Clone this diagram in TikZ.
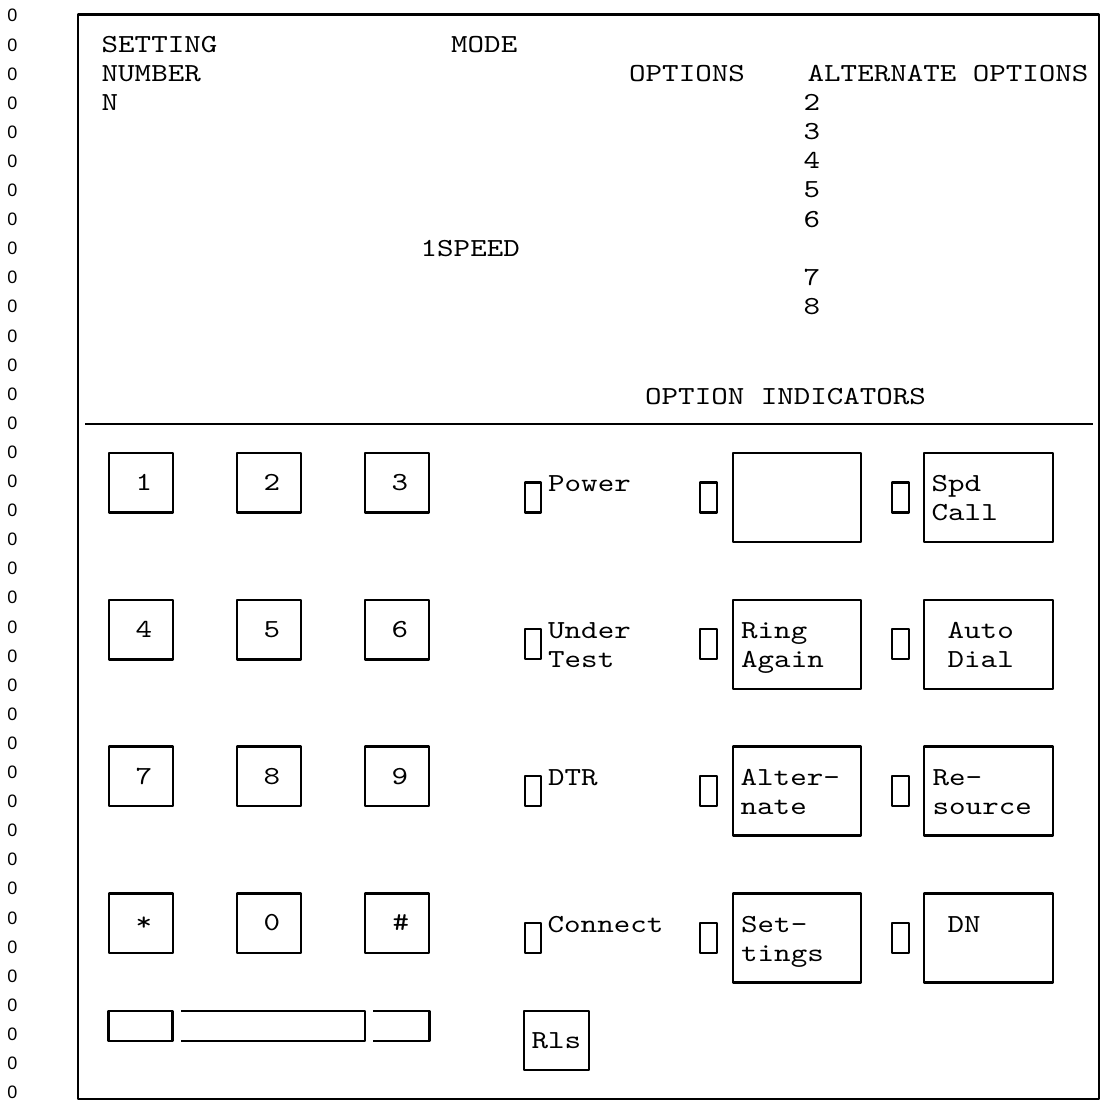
\documentclass[tikz,border=0pt]{standalone}
\usepackage{fontspec}
\newfontfamily\monofnt[FakeStretch=1.21]{lmmono10-regular.otf}
\newfontfamily\zerofnt{Liberation Sans}
\begin{document}
\begin{tikzpicture}[x=1pt,y=-1pt,
  mtext/.style={font=\monofnt\fontsize{26}{29}\selectfont, inner sep=0pt, anchor=base west},
  ctext/.style={font=\monofnt\fontsize{26}{29}\selectfont, inner sep=0pt, anchor=base},
  zerotext/.style={font=\zerofnt\fontsize{18}{20}\selectfont, inner sep=0pt, anchor=base},
  keybox/.style={draw, line width=2.4pt, line join=round, minimum width=64pt, minimum height=59.5pt, inner sep=0pt},
  ledbox/.style={draw, line width=2.2pt, line join=round, minimum width=16.5pt, minimum height=30pt, inner sep=0pt},
  fnbox/.style={draw, line width=2.4pt, line join=round, minimum width=128.5pt, minimum height=89pt, inner sep=0pt},
  barline/.style={draw, line width=2.4pt, line join=round}]
\useasboundingbox (0,0) rectangle (1102,1109);

% left column of zeros
\foreach \k in {1,...,38}{
  \node[zerotext] (z\k) at (12.5,{15.5+(\k-1)*29.1+6.45}) {0};
}

% frame and separator
\draw[line width=2.7pt, line join=round] (78,14.5) rectangle (1099,1099);
\coordinate (sepL) at (85,424);
\coordinate (sepR) at (1093,424);
\draw[line width=2.7pt] (sepL) -- (sepR);

% header texts
\node[mtext] (setting) at (101.5,52.4) {SETTING};
\node[mtext] (mode) at (451,52.4) {MODE};
\node[mtext] (number) at (101.5,81.5) {NUMBER};
\node[mtext] (options) at (629,81.5) {OPTIONS};
\node[mtext] (altopt) at (807.5,81.5) {ALTERNATE OPTIONS};
\node[mtext] (nn) at (101.5,110.6) {N};
\node[mtext] (a2) at (803.5,110.6) {2};
\node[mtext] (a3) at (803.5,139.7) {3};
\node[mtext] (a4) at (803.5,168.8) {4};
\node[mtext] (a5) at (803.5,197.9) {5};
\node[mtext] (a6) at (803.5,227.0) {6};
\node[mtext] (speed) at (420.5,256.1) {1SPEED};
\node[mtext] (a7) at (803.5,285.2) {7};
\node[mtext] (a8) at (803.5,314.3) {8};
\node[mtext] (optind) at (645,404.5) {OPTION INDICATORS};

% keypad
\node[keybox] (k1) at (141,482.75) {};
\node[keybox] (k2) at (269,482.75) {};
\node[keybox] (k3) at (397,482.75) {};
\node[keybox] (k4) at (141,629.55) {};
\node[keybox] (k5) at (269,629.55) {};
\node[keybox] (k6) at (397,629.55) {};
\node[keybox] (k7) at (141,776.35) {};
\node[keybox] (k8) at (269,776.35) {};
\node[keybox] (k9) at (397,776.35) {};
\node[keybox] (ks) at (141,923.15) {};
\node[keybox] (k0) at (269,923.15) {};
\node[keybox] (kh) at (397,923.15) {};
\node[ctext] (t1) at (144,490.55) {1};
\node[ctext] (t2) at (272,490.55) {2};
\node[ctext] (t3) at (400,490.55) {3};
\node[ctext] (t4) at (144,637.35) {4};
\node[ctext] (t5) at (272,637.35) {5};
\node[ctext] (t6) at (400,637.35) {6};
\node[ctext] (t7) at (144,784.15) {7};
\node[ctext] (t8) at (272,784.15) {8};
\node[ctext] (t9) at (400,784.15) {9};
\node[ctext] (ts) at (144,930.95) {*};
\node[ctext] (t0) at (272,930.95) {0};
\node[ctext] (th) at (401,930.95) {\#};

% bottom bars
\node[keybox, minimum height=30.3pt] (bar1) at (140.6,1025.85) {};
\coordinate (b2a) at (181,1010.7);
\coordinate (b2b) at (365,1010.7);
\coordinate (b2c) at (365,1041);
\coordinate (b2d) at (181,1041);
\draw[barline] (b2a) -- (b2b) -- (b2c) -- (b2d);
\coordinate (b3a) at (373.3,1010.7);
\coordinate (b3b) at (429.3,1010.7);
\coordinate (b3c) at (429.3,1041);
\coordinate (b3d) at (373.3,1041);
\draw[barline] (b3a) -- (b3b) -- (b3c) -- (b3d);

% indicator LEDs and function keys
\foreach \r/\yy in {1/497.5,2/644.3,3/791.1,4/937.9}{
  \node[ledbox] (la\r) at (533,\yy) {};
  \node[ledbox] (lb\r) at (708.5,\yy) {};
  \node[ledbox] (lc\r) at (900.5,\yy) {};
  \node[fnbox] (fb\r) at (797,\yy) {};
  \node[fnbox] (fc\r) at (988.5,\yy) {};
}

% indicator labels
\node[mtext] (power) at (548,491.7) {Power};
\node[mtext] (under) at (548,638.5) {Under};
\node[mtext] (test) at (548,667.5) {Test};
\node[mtext] (dtr) at (548,785.3) {DTR};
\node[mtext] (connect) at (547.5,932.1) {Connect};

% function key labels
\node[mtext] (spd) at (931.5,491.7) {Spd};
\node[mtext] (call) at (931.5,520.7) {Call};
\node[mtext] (ring) at (741,638.5) {Ring};
\node[mtext] (again) at (741,667.5) {Again};
\node[mtext] (auto) at (947.5,638.5) {Auto};
\node[mtext] (dial) at (947.5,667.5) {Dial};
\node[mtext] (alter) at (740.5,785.3) {Alter-};
\node[mtext] (nate) at (740.5,814.3) {nate};
\node[mtext] (re) at (932.5,785.3) {Re-};
\node[mtext] (source) at (932.5,814.3) {source};
\node[mtext] (set) at (741,932.1) {Set-};
\node[mtext] (tings) at (741,961.1) {tings};
\node[mtext] (dn) at (947.5,932.1) {DN};

% release key
\node[keybox, minimum width=65pt, minimum height=59pt] (rls) at (556.5,1040.5) {};
\node[mtext] (rlstext) at (531.5,1048.7) {Rls};
\end{tikzpicture}
\end{document}
